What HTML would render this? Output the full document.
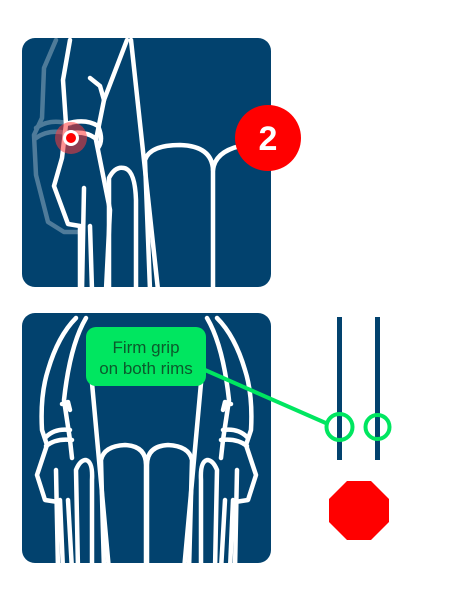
<!DOCTYPE html>
<html><head><meta charset="utf-8"><style>
html,body{margin:0;padding:0;background:#fff;}
svg{display:block;}
text{font-family:"Liberation Sans",sans-serif;}
</style></head><body>
<svg width="449" height="600" viewBox="0 0 449 600">
  <g>
    <clipPath id="c1"><rect x="22" y="38" width="249" height="249" rx="13"/></clipPath>
    <rect x="22" y="38" width="249" height="249" rx="13" fill="#02426e"/>
    <g clip-path="url(#c1)" fill="none" stroke="#fff" stroke-width="4.5" stroke-linejoin="round" stroke-linecap="round">
      <g opacity="0.3">
        <polyline points="56,40 44,68 42,118 34,135 36,175 48,222 64,232 80,232"/>
        <path d="M36,128 Q50,118 70,124"/>
        <path d="M36,138 Q50,128 70,134"/>
      </g>
      <g>
        <polyline points="70,40 63,80 66,124 62,158 54,186 68,224 80,226 80,290"/>
        <path d="M66,124 Q85,118 98,126 Q104,140 98,148"/>
        <path d="M66,134 Q84,130 95,138"/>
        <polyline points="90,78 100,86 104,100"/>
        <polyline points="127,40 104,100 96,140 110,210 106,290"/>
        <polyline points="84,188 82,290"/>
        <polyline points="90,226 92,290"/>
        <polyline points="131,40 158,290"/>
        <path d="M109,290 L109,178 Q115,166 124,168 Q135,170 136,200 L136,290"/>
        <path d="M150,290 L145,160 Q150,145 180,145 Q212,146 213,170 L213,290"/>
        <path d="M213,170 Q215,152 240,146"/>
      </g>
    </g>
    <circle cx="71" cy="138" r="16" fill="#ff3b3b" opacity="0.55"/>
    <circle cx="71" cy="138" r="6.5" fill="#ff0000" stroke="#fff" stroke-width="3"/>
    <circle cx="268" cy="138" r="33" fill="#ff0000"/>
    <text x="268" y="150" text-anchor="middle" font-size="34" font-weight="bold" fill="#fff">2</text>
  </g>

  <g>
    <clipPath id="c2"><rect x="22" y="313" width="249" height="250" rx="13"/></clipPath>
    <rect x="22" y="313" width="249" height="250" rx="13" fill="#02426e"/>
    <g clip-path="url(#c2)" fill="none" stroke="#fff" stroke-width="4.5" stroke-linejoin="round" stroke-linecap="round">
      <g id="halfL">
        <path d="M76,318 Q58,336 48,370 Q40,395 42,430 L47,445 L37,475 L45,500 L58,502"/>
        <path d="M46,437 Q55,428 70,430"/>
        <path d="M46,446 Q56,438 72,440"/>
        <path d="M86,318 Q70,345 64,400 L70,440 L72,458"/>
        <polyline points="62,404 68,402 70,410"/>
        <polyline points="56,470 58,570"/>
        <polyline points="60,500 63,570"/>
        <polyline points="68,500 72,570"/>
        <polyline points="92,383 109,570"/>
        <path d="M78,570 L76,470 Q80,460 86,460 Q93,462 92,480 L92,570"/>
        <path d="M104,570 L101,460 Q104,446 125,445 Q146,446 146,465 L146,570"/>
      </g>
      <use href="#halfL" transform="translate(293,0) scale(-1,1)"/>
    </g>
    <rect x="86" y="327" width="120" height="59" rx="10" fill="#00e660"/>
    <text x="146" y="353" text-anchor="middle" font-size="17" fill="#0b5a2c">Firm grip</text>
    <text x="146" y="374" text-anchor="middle" font-size="17" fill="#0b5a2c">on both rims</text>
    <line x1="205" y1="370" x2="328" y2="424" stroke="#00e660" stroke-width="4"/>
  </g>

  <rect x="337" y="317" width="5" height="143" fill="#02426e"/>
  <rect x="375" y="317" width="5" height="143" fill="#02426e"/>
  <circle cx="339.5" cy="427" r="13" fill="none" stroke="#00e660" stroke-width="4"/>
  <circle cx="377.5" cy="427" r="12" fill="none" stroke="#00e660" stroke-width="4"/>
  <polygon points="347,481 371,481 389,499 389,522 371,540 347,540 329,522 329,499" fill="#ff0000"/>
</svg>
</body></html>
